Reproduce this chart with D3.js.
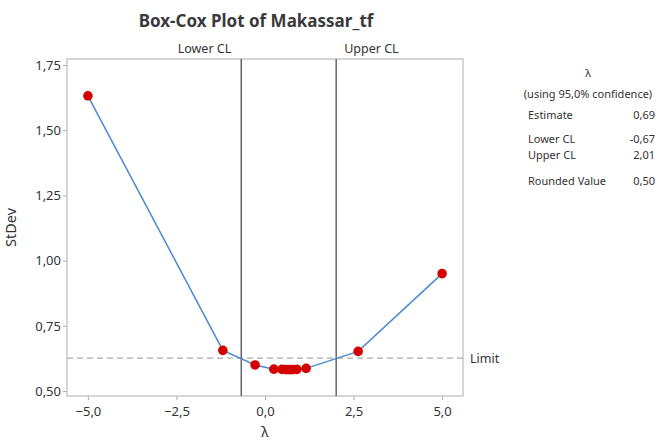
<!DOCTYPE html>
<html>
<head>
<meta charset="utf-8">
<script src="https://cdn.jsdelivr.net/npm/d3@7"></script>
<style>
  body { margin: 0; background: #fff; }
  text { font-family: "Noto Sans", "Open Sans", sans-serif; fill: #333; }
</style>
</head>
<body>
<svg id="chart"></svg>
<script>
//data
const lambdas = [-5, -1.19, -0.28, 0.25, 0.48, 0.6, 0.69, 0.78, 0.9, 1.16, 2.63, 5];
const stdevs = [1.632, 0.656, 0.600, 0.584, 0.583, 0.582, 0.582, 0.582, 0.583, 0.587, 0.652, 0.950];
const xTicks = [-5, -2.5, 0, 2.5, 5];
const yTicks = [0.5, 0.75, 1, 1.25, 1.5, 1.75];
const lowerCL = -0.67;
const upperCL = 2.01;
const limit = 0.626;
const legendRows = [
  ["Estimate", "0,69"],
  ["Lower CL", "-0,67"],
  ["Upper CL", "2,01"],
  ["Rounded Value", "0,50"]
];

const width = 658, height = 443;
const m = { left: 67, right: 463, top: 59, bottom: 396 };

const svg = d3.select("#chart").attr("width", width).attr("height", height);

const x = d3.scaleLinear().domain([-5.59, 5.59]).range([m.left, m.right]);
const y = d3.scaleLinear().domain([0.481, 1.773]).range([m.bottom, m.top]);

const comma = v => d3.format(".2f")(v).replace(".", ",");
const comma1 = v => d3.format(".1f")(v).replace(".", ",");

//title
svg.append("text")
  .attr("x", 256).attr("y", 27)
  .attr("text-anchor", "middle")
  .style("font-size", "17px").style("font-weight", "bold")
  .style("fill", "#3a3a3a")
  .text("Box-Cox Plot of Makassar_tf");

//axes
const xAxis = svg.append("g")
  .attr("transform", `translate(0,${m.bottom})`)
  .call(d3.axisBottom(x).tickValues(xTicks).tickFormat(comma1).tickSize(4).tickSizeOuter(0));
const yAxis = svg.append("g")
  .attr("transform", `translate(${m.left},0)`)
  .call(d3.axisLeft(y).tickValues(yTicks).tickFormat(comma).tickSize(4).tickSizeOuter(0));
[xAxis, yAxis].forEach(a => {
  a.select(".domain").remove();
  a.selectAll("line").attr("stroke", "#aaa");
  a.selectAll("text").style("font-size", "13px").attr("fill", "#333");
});
xAxis.selectAll("text").attr("dy", "1.0em");
yAxis.selectAll("text").attr("x", -6);

//frame
svg.append("rect")
  .attr("x", m.left).attr("y", m.top)
  .attr("width", m.right - m.left).attr("height", m.bottom - m.top)
  .attr("fill", "none").attr("stroke", "#c8c8c8").attr("stroke-width", 1.5);

//axis titles
svg.append("text")
  .attr("transform", `translate(16,${(m.top + m.bottom) / 2}) rotate(-90)`)
  .attr("text-anchor", "middle")
  .style("font-size", "14.5px")
  .text("StDev");
svg.append("text")
  .attr("x", x(0)).attr("y", 437)
  .attr("text-anchor", "middle")
  .style("font-size", "14px")
  .text("λ");

//limit
svg.append("line")
  .attr("x1", m.left).attr("x2", m.right)
  .attr("y1", y(limit)).attr("y2", y(limit))
  .attr("stroke", "#aaa").attr("stroke-dasharray", "6,4").attr("stroke-width", 1.2);
svg.append("text")
  .attr("x", m.right + 7).attr("y", y(limit))
  .attr("dy", "0.35em")
  .style("font-size", "12.5px")
  .text("Limit");

//confidence limits
[[lowerCL, "Lower CL", "end", -10], [upperCL, "Upper CL", "start", 8]].forEach(([v, lab, anchor, dx]) => {
  svg.append("line")
    .attr("x1", x(v)).attr("x2", x(v))
    .attr("y1", m.top).attr("y2", m.bottom)
    .attr("stroke", "#666").attr("stroke-width", 1.5);
  svg.append("text")
    .attr("x", x(v) + dx).attr("y", 53)
    .attr("text-anchor", anchor)
    .style("font-size", "12.5px")
    .text(lab);
});

//curve and points
const pts = lambdas.map((l, i) => [l, stdevs[i]]);
svg.append("path")
  .datum(pts)
  .attr("d", d3.line().x(d => x(d[0])).y(d => y(d[1])))
  .attr("fill", "none")
  .attr("stroke", "#4a8ad0")
  .attr("stroke-width", 1.5);
svg.append("g")
  .selectAll("circle")
  .data(pts)
  .join("circle")
  .attr("cx", d => x(d[0]))
  .attr("cy", d => y(d[1]))
  .attr("r", 4.8)
  .attr("fill", "#d40000");

//legend
const leg = svg.append("g").style("font-size", "11px");
leg.append("text").attr("x", 588).attr("y", 77).attr("text-anchor", "middle").text("λ");
leg.append("text").attr("x", 588).attr("y", 98).attr("text-anchor", "middle").text("(using 95,0% confidence)");
const rowY = [119, 143, 159, 185];
legendRows.forEach((r, i) => {
  leg.append("text").attr("x", 528).attr("y", rowY[i]).text(r[0]);
  leg.append("text").attr("x", 655).attr("y", rowY[i]).attr("text-anchor", "end").text(r[1]);
});
</script>
</body>
</html>
